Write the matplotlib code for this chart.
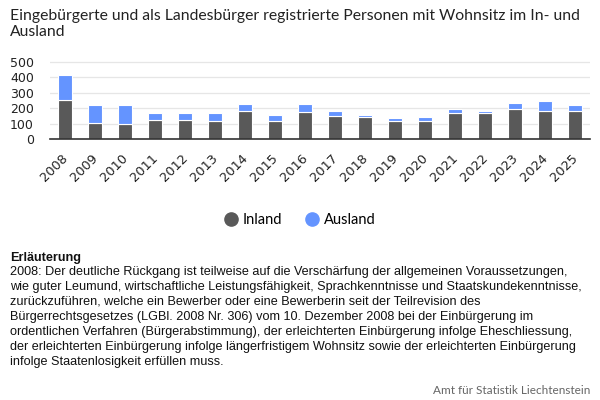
import numpy as np
import matplotlib.pyplot as plt
import matplotlib.transforms as mtransforms
from matplotlib.lines import Line2D

years = [str(y) for y in range(2008, 2026)]
inland = [251, 102, 95, 121, 121, 115, 180, 115, 173, 147, 141, 115, 115, 167, 167, 193, 184, 184]
ausland = [167, 121, 128, 50, 50, 56, 49, 43, 56, 37, 17, 24, 30, 30, 17, 43, 65, 39]

title = "Eingebürgerte und als Landesbürger registrierte Personen mit Wohnsitz im In- und\nAusland"
note_head = "Erläuterung"
note_body = ("2008: Der deutliche Rückgang ist teilweise auf die Verschärfung der allgemeinen Voraussetzungen,\n"
             "wie guter Leumund, wirtschaftliche Leistungsfähigkeit, Sprachkenntnisse und Staatskundekenntnisse,\n"
             "zurückzuführen, welche ein Bewerber oder eine Bewerberin seit der Teilrevision des\n"
             "Bürgerrechtsgesetzes (LGBl. 2008 Nr. 306) vom 10. Dezember 2008 bei der Einbürgerung im\n"
             "ordentlichen Verfahren (Bürgerabstimmung), der erleichterten Einbürgerung infolge Eheschliessung,\n"
             "der erleichterten Einbürgerung infolge längerfristigem Wohnsitz sowie der erleichterten Einbürgerung\n"
             "infolge Staatenlosigkeit erfüllen muss.")
credit = "Amt für Statistik Liechtenstein"

c_in = "#595959"
c_aus = "#6494ff"

plt.rcParams['font.family'] = ['Lato', 'DejaVu Sans']

fig = plt.figure(figsize=(6, 4), dpi=100)
ax = fig.add_axes([50 / 600, 1 - 139 / 400, 540 / 600, (139 - 59) / 400])

x = np.arange(len(years))
ax.bar(x, inland, width=0.45, color=c_in, edgecolor='white', linewidth=0.8, zorder=3)
ax.bar(x, ausland, bottom=inland, width=0.45, color=c_aus, edgecolor='white', linewidth=0.8, zorder=3)

ax.set_xlim(-0.5, 17.5)
ax.set_ylim(0, 520)
ax.set_yticks(range(0, 501, 100))
ax.set_xticks(x)
ax.set_xticklabels(years, rotation=45, ha='right', rotation_mode='anchor',
                   fontsize=9.3, family='DejaVu Sans', color='#222222')
ax.set_yticklabels([str(v) for v in range(0, 501, 100)], fontsize=9, family='DejaVu Sans', color='#222222')
ax.tick_params(axis='y', length=0, pad=11.5)
ax.tick_params(axis='x', length=0, pad=9)
# nudge the rotated year labels a little to the left
shift = mtransforms.ScaledTranslation(-4 / 100, 0, fig.dpi_scale_trans)
for lab in ax.get_xticklabels():
    lab.set_transform(lab.get_transform() + shift)
ax.grid(axis='y', color='#e6e6e6', linewidth=0.9, zorder=0)
for s in ['top', 'right', 'left']:
    ax.spines[s].set_visible(False)
ax.spines['bottom'].set_color('#333333')
ax.spines['bottom'].set_linewidth(1.2)
ax.spines['bottom'].set_zorder(4)

fig.text(10 / 600, 1 - 9 / 400, title, ha='left', va='top', fontsize=11.3, color='#222222', linespacing=1.15)

handles = [Line2D([], [], marker='o', linestyle='', markersize=9.5, color=c_in),
           Line2D([], [], marker='o', linestyle='', markersize=9.5, color=c_aus)]
fig.legend(handles, ['Inland', 'Ausland'], loc='center', bbox_to_anchor=(0.5, 1 - 220 / 400),
           ncol=2, frameon=False, fontsize=10.5, handlelength=1.0, handletextpad=0.3, columnspacing=1.55)

fig.text(10 / 600, 1 - 258 / 400, note_head, ha='left', va='center', fontsize=9.1,
         fontweight='bold', family='Liberation Sans', color='#111111')
fig.text(10 / 600, 1 - 266 / 400, note_body, ha='left', va='top', fontsize=9.1,
         family='Liberation Sans', color='#111111', linespacing=1.33)

fig.text(590 / 600, 1 - 391 / 400, credit, ha='right', va='center', fontsize=8.5, color='#666666')

fig.savefig("out.png", dpi=100)
